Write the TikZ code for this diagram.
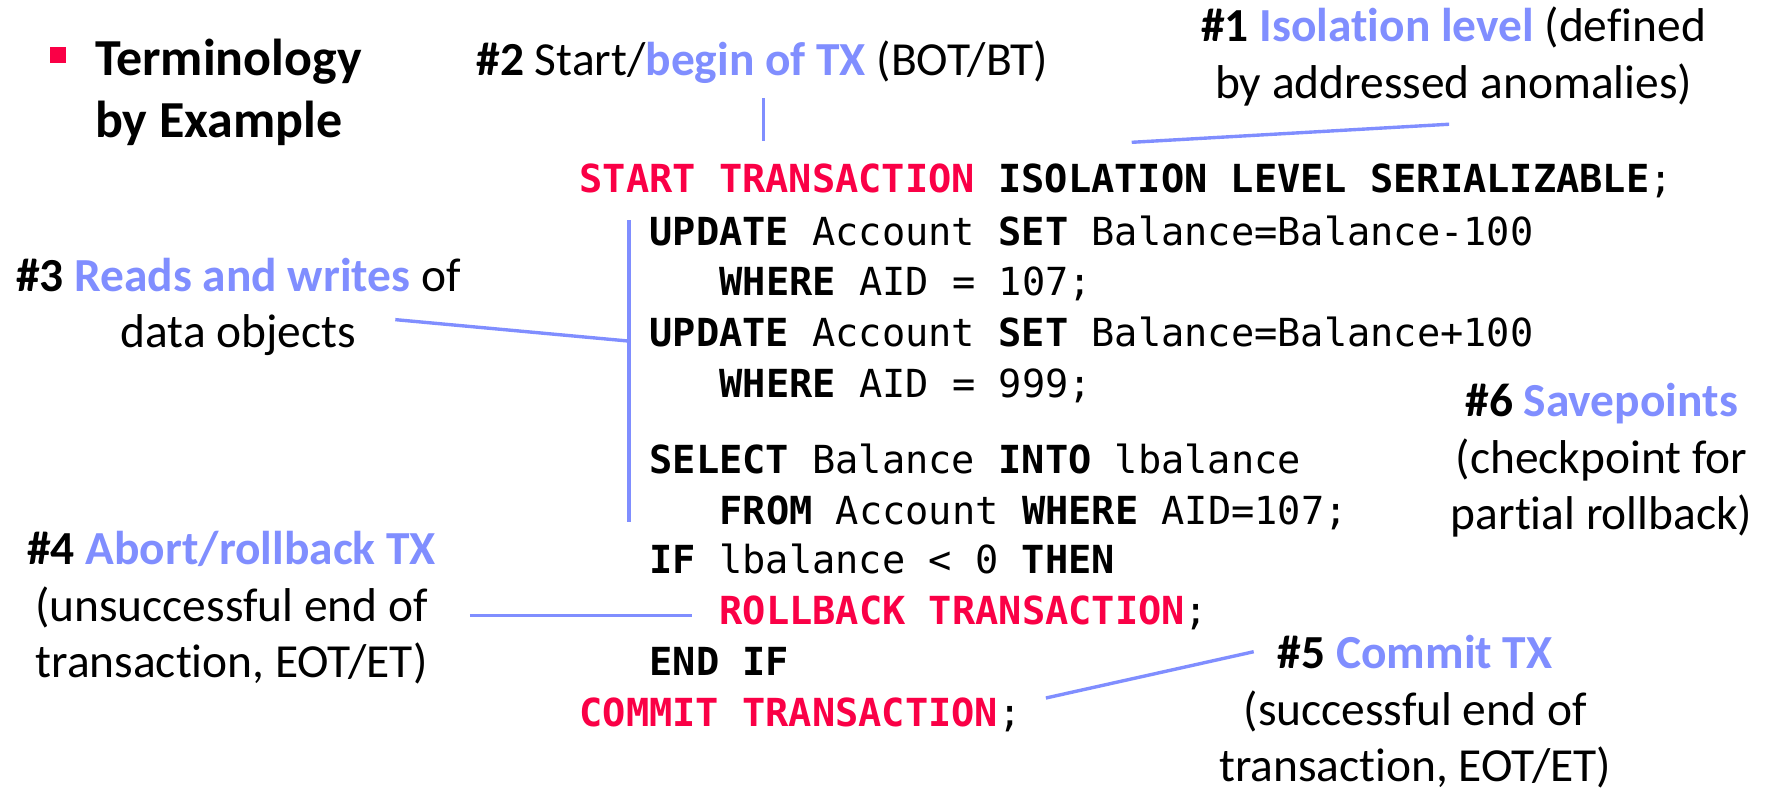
\documentclass[tikz,border=0pt]{standalone}
\usepackage{fontspec}
\setmainfont{Carlito}[Ligatures=NoCommon]
\newfontfamily\codefont{DejaVu Sans Mono}
\definecolor{kwred}{RGB}{250,0,70}
\definecolor{hlblue}{RGB}{128,142,255}
% SQL keyword, transaction keyword, highlighted term
\newcommand\sqlkw[1]{\textbf{#1}}
\newcommand\sqltx[1]{\textcolor{kwred}{\textbf{#1}}}
\newcommand\hlterm[1]{\textcolor{hlblue}{\textbf{#1}}}
\begin{document}
\begin{tikzpicture}[x=1pt,y=-1pt,
  code/.style={anchor=base west, inner sep=0pt, font=\codefont\fontsize{34.2}{40}\selectfont},
  note/.style={anchor=base, align=center, inner sep=0pt, font=\fontsize{42}{50}\selectfont},
  link/.style={draw=hlblue, line width=3pt},
]
\useasboundingbox (0,0) rectangle (1568,699);
\fill[white] (0,0) rectangle (1568,699);

% title bullet (multi-line nodes are placed by the baseline of their last line)
\fill[kwred] (44.3,41.9) rectangle (58.3,55.8);
\node[anchor=base west, inner sep=0pt, align=left, font=\fontsize{46}{55}\selectfont\bfseries] (title) at (84,122) {Terminology\\by Example};

% SQL listing
\node[code] (s1)  at (513,170) {\sqltx{START TRANSACTION} \sqlkw{ISOLATION LEVEL SERIALIZABLE};};
\node[code] (s2)  at (575,217) {\sqlkw{UPDATE} Account \sqlkw{SET} Balance=Balance-100};
\node[code] (s3)  at (637,262) {\sqlkw{WHERE} AID = 107;};
\node[code] (s4)  at (575,307) {\sqlkw{UPDATE} Account \sqlkw{SET} Balance=Balance+100};
\node[code] (s5)  at (637,352) {\sqlkw{WHERE} AID = 999;};
\node[code] (s6)  at (575,419) {\sqlkw{SELECT} Balance \sqlkw{INTO} lbalance};
\node[code] (s7)  at (637,464) {\sqlkw{FROM} Account \sqlkw{WHERE} AID=107;};
\node[code] (s8)  at (575,508) {\sqlkw{IF} lbalance < 0 \sqlkw{THEN}};
\node[code] (s9)  at (637,553) {\sqltx{ROLLBACK TRANSACTION};};
\node[code] (s10) at (575,598) {\sqlkw{END IF}};
\node[code] (s11) at (513,643) {\sqltx{COMMIT TRANSACTION};};

% annotations
\node[note] (n1) at (1287,87) {\textbf{\#1} \hlterm{Isolation level} (defined\\by addressed anomalies)};
\node[note] (n2) at (675,67) {\textbf{\#2} Start/\hlterm{begin of TX} (BOT/BT)};
\node[note] (n3) at (211,308) {\textbf{\#3} \hlterm{Reads and writes} of\\data objects};
\node[note] (n4) at (205,600) {\textbf{\#4} \hlterm{Abort/rollback TX}\\(unsuccessful end of\\transaction, EOT/ET)};
\node[note] (n5) at (1253,692) {\textbf{\#5} \hlterm{Commit TX}\\(successful end of\\transaction, EOT/ET)};
\node[note] (n6) at (1418,469) {\textbf{\#6} \hlterm{Savepoints}\\(checkpoint for\\partial rollback)};

% connector end points
\coordinate (c1a) at (1283,110);
\coordinate (c1b) at (1002,126);
\coordinate (c2a) at (676,87);
\coordinate (c2b) at (676,125);
\coordinate (c3a) at (350,283);
\coordinate (c3b) at (557,302);
\coordinate (brtop) at (557,195);
\coordinate (brbot) at (557,462);
\coordinate (c4a) at (416,545);
\coordinate (c4b) at (613,545);
\coordinate (c5a) at (1110,577);
\coordinate (c5b) at (926,618);

% connectors
\draw[link] (c1a) -- (c1b);
\draw[link] (c2a) -- (c2b);
\draw[link] (brtop) -- (brbot);
\draw[link] (c3a) -- (c3b);
\draw[link] (c4a) -- (c4b);
\draw[link] (c5a) -- (c5b);
\end{tikzpicture}
\end{document}
